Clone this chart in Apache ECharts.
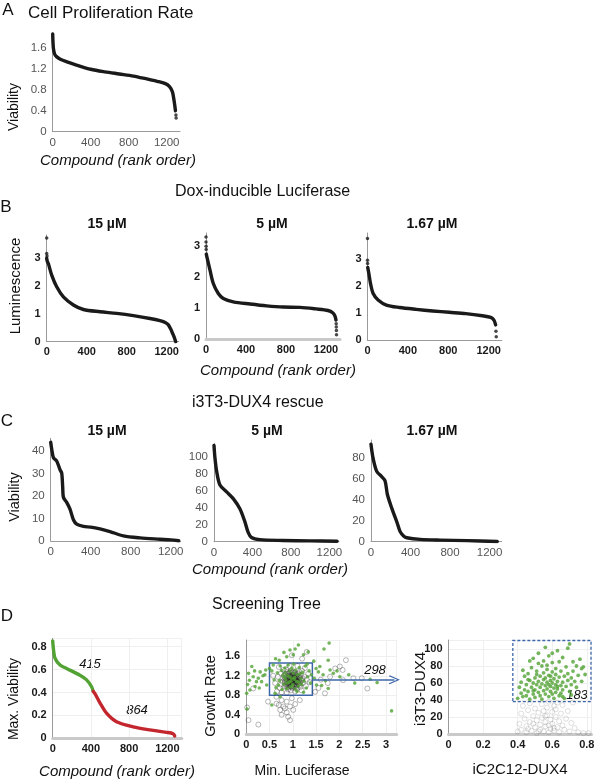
<!DOCTYPE html>
<html>
<head>
<meta charset="utf-8">
<script src="https://cdn.jsdelivr.net/npm/echarts@6/dist/echarts.min.js"></script>
<style>
  html, body { margin: 0; padding: 0; background: #fff; }
  #main { width: 600px; height: 782px; }
</style>
</head>
<body>
<div id="main"></div>
<script>
// ---- data ----
// A: cell proliferation rate
const aRank = [0, 3, 8, 20, 40, 80, 150, 250, 400, 550, 700, 850, 1000, 1100, 1180, 1230, 1260, 1275, 1285, 1292];
const aValue = [1.86, 1.70, 1.58, 1.48, 1.43, 1.38, 1.33, 1.27, 1.19, 1.14, 1.10, 1.06, 1.00, 0.96, 0.92, 0.86, 0.76, 0.62, 0.50, 0.40];
const aDots = [[1297, 0.32], [1299, 0.26]];

// B: dox-inducible luciferase
const b1Rank = [0, 5, 17, 50, 100, 167, 267, 367, 533, 700, 867, 1033, 1133, 1190, 1217, 1240, 1255, 1273, 1290];
const b1Value = [2.98, 2.88, 2.78, 2.38, 1.96, 1.60, 1.31, 1.15, 1.07, 1.01, 0.93, 0.83, 0.75, 0.68, 0.60, 0.45, 0.33, 0.18, 0.0];
const b1Dots = [[0, 3.7], [0, 3.15], [3, 3.06]];
const b2Rank = [3, 13, 40, 73, 123, 173, 273, 440, 607, 773, 940, 1100, 1220, 1270, 1290, 1300];
const b2Value = [2.75, 2.60, 2.23, 1.80, 1.48, 1.32, 1.21, 1.14, 1.08, 1.04, 1.03, 0.98, 0.93, 0.85, 0.75, 0.62];
const b2Dots = [[0, 3.30], [0, 3.14], [1, 3.0], [2, 2.9], [1302, 0.50], [1303, 0.40], [1304, 0.28], [1305, 0.15]];
const b3Rank = [2, 13, 30, 56, 105, 187, 318, 482, 646, 810, 974, 1138, 1220, 1252, 1269];
const b3Value = [2.70, 2.48, 2.10, 1.73, 1.49, 1.30, 1.21, 1.14, 1.08, 1.03, 0.98, 0.90, 0.84, 0.74, 0.56];
const b3Dots = [[0, 3.78], [0, 2.97], [1, 2.85], [1272, 0.33], [1275, 0.12]];

// C: i3T3-DUX4 rescue
const c1Rank = [0, 10, 27, 60, 93, 110, 120, 127, 160, 193, 227, 260, 327, 400, 493, 593, 727, 893, 1093, 1200, 1280];
const c1Value = [44, 41, 37.2, 35.7, 31.8, 30.3, 24, 19.5, 17.2, 14.2, 9.5, 7.5, 6.5, 6.2, 5.4, 4.2, 2.3, 1.4, 0.8, 0.5, 0.1];
const c2Rank = [0, 10, 28, 62, 131, 200, 269, 320, 355, 390, 476, 717, 1000, 1280];
const c2Value = [114, 99, 83, 67, 59, 51, 39, 24, 11, 5, 2.5, 1.5, 1.0, 0.6];
const c3Rank = [0, 5, 20, 58, 108, 142, 166, 210, 261, 295, 330, 363, 498, 700, 973, 1278];
const c3Value = [93, 89, 80, 67, 62, 58, 45, 32, 19, 9.6, 5.5, 3.8, 2.2, 1.5, 1.0, 0.2];

// D: screening tree
const d1GreenRank = [0, 5, 24, 77, 146, 285, 355, 407, 424];
const d1GreenValue = [0.85, 0.80, 0.70, 0.64, 0.61, 0.55, 0.51, 0.45, 0.41];
const d1RedRank = [424, 442, 494, 563, 668, 842, 1016, 1190, 1260, 1277];
const d1RedValue = [0.41, 0.39, 0.31, 0.22, 0.145, 0.10, 0.073, 0.052, 0.04, 0.02];

const d2Green = [
  [1.78,1.87],[1.67,1.75],[0.94,1.73],[1.05,1.75],[1.12,1.83],[0.81,1.68],[0.71,1.52],[0.87,1.59],[1.01,1.63],[1.23,1.63],
  [1.33,1.69],[1.76,1.52],[1.58,1.39],[1.55,1.28],[1.65,1.22],[1.80,1.32],[1.87,1.25],[2.01,1.18],[2.33,1.05],[2.66,1.13],
  [2.81,1.06],[3.12,0.48],[1.51,1.01],[1.62,1.00],[1.76,0.94],[0.12,1.39],[0.05,1.25],[0.15,1.18],[0.26,1.15],[0.33,1.08],
  [0.40,1.22],[0.44,1.01],[0.19,0.98],[0.08,0.91],[0.01,0.84],[0.02,0.52],[0.30,1.28],[0.50,1.35],[0.22,1.08],[0.07,1.11],
  [0.55,0.60],[0.73,0.77],[0.03,1.02],[0.36,1.20],[1.46,1.15],[1.50,1.35],[1.70,1.10],[1.95,1.30],[2.20,1.22],[0.18,1.30],
  [0.28,0.95],[0.42,1.32],[1.45,1.50],[0.63,1.55],
  [0.55,1.30],[0.60,1.12],[0.64,0.96],[0.67,1.26],[0.71,1.10],[0.73,1.40],[0.77,0.92],[0.79,1.21],[0.81,1.03],[0.83,1.36],
  [0.85,1.12],[0.87,0.94],[0.89,1.20],[0.90,1.42],[0.92,1.07],[0.94,1.30],[0.95,0.97],[0.97,1.15],[0.98,1.36],[1.00,1.02],
  [1.01,1.25],[1.03,1.13],[1.05,0.93],[1.06,1.32],[1.08,1.08],[1.10,1.22],[1.12,0.99],[1.14,1.37],[1.17,1.14],[1.19,1.02],
  [1.21,1.27],[1.24,1.09],[1.27,1.40],[1.29,0.95],[1.32,1.18],[1.35,1.30],[1.38,1.05],[1.40,1.22],[0.58,1.42],[0.62,0.84],
  [0.69,1.01],[0.76,1.31],[0.84,1.26],[0.93,1.18],[1.02,1.44],[1.09,0.88],[1.16,1.24],[1.23,0.86],[1.31,1.44],[0.88,1.05],
  [0.96,1.09],[1.04,1.17],[0.82,1.17],[1.13,1.07],[0.99,0.99]
];
const d2Gray = [
  [1.30,1.69],[2.14,1.52],[2.01,1.39],[2.07,1.32],[1.91,1.35],[1.80,1.18],[2.08,1.11],[2.60,0.94],[2.48,1.15],[1.69,0.84],
  [1.48,0.87],[0.65,0.77],[0.76,0.70],[0.87,0.67],[0.98,0.74],[0.65,0.63],[0.80,0.57],[0.94,0.57],[0.73,0.50],[0.87,0.45],
  [1.01,0.50],[0.76,0.40],[0.90,0.36],[0.94,0.29],[0.83,0.53],[0.47,0.67],[0.02,0.55],[0.05,0.29],[0.26,0.20],[0.15,0.94],
  [1.60,1.12],[1.75,1.05],[2.30,1.15],[1.55,0.95],[1.05,0.62],[0.70,0.60],[1.20,1.55],[0.98,1.62],[1.15,0.70],
  [0.62,1.05],[0.68,1.18],[0.72,0.95],[0.75,1.25],[0.78,1.08],[0.80,1.32],[0.82,0.98],[0.84,1.15],[0.85,1.22],[0.86,1.02],
  [0.88,1.10],[0.88,1.28],[0.90,0.92],[0.90,1.17],[0.91,1.05],[0.92,1.24],[0.93,1.12],[0.94,0.99],[0.95,1.08],[0.95,1.19],
  [0.96,1.30],[0.97,1.03],[0.98,1.14],[0.99,0.95],[1.00,1.10],[1.00,1.22],[1.01,1.06],[1.02,1.16],[1.03,0.98],[1.04,1.27],
  [1.05,1.09],[1.06,1.13],[1.07,1.02],[1.08,1.20],[1.09,0.93],[1.10,1.11],[1.12,1.25],[1.13,1.04],[1.15,1.16],[1.16,0.97],
  [1.18,1.10],[1.20,1.30],[1.22,1.05],[1.25,1.18],[1.28,0.99],[1.30,1.12],[1.33,1.24],[1.36,1.07],[0.70,1.38],[0.66,0.88],
  [0.58,1.20],[0.76,0.86],[0.87,0.85],[1.05,0.88],[1.19,0.90],[1.26,1.36],[0.93,1.40],[1.10,1.40],[0.83,1.08],[0.97,1.21],
  [1.03,1.09],[0.89,1.00],[1.11,1.18],[0.79,1.15],[0.94,1.04],[1.01,1.14],[0.96,0.90],[1.14,1.28],[0.74,1.02],[0.86,1.33],
  [1.07,0.95],[1.21,1.15],[0.98,1.27],[0.91,1.12],[1.04,1.03],[0.99,1.17],[0.92,0.96],[1.06,1.23],
  [0.84,1.06],[0.86,1.18],[0.88,0.97],[0.89,1.13],[0.90,1.25],[0.91,1.01],[0.92,1.16],[0.93,1.08],[0.94,1.21],[0.95,1.02],
  [0.95,1.13],[0.96,1.26],[0.97,0.98],[0.97,1.10],[0.98,1.19],[0.99,1.05],[0.99,1.12],[1.00,0.97],[1.00,1.17],[1.01,1.09],
  [1.01,1.28],[1.02,1.02],[1.02,1.12],[1.03,1.20],[1.04,1.07],[1.05,1.15],[1.05,0.99],[1.06,1.06],[1.07,1.18],[1.08,1.11],
  [1.08,1.00],[1.09,1.24],[1.10,1.07],[1.11,1.14],[1.12,1.03],[1.13,1.19],[1.14,1.10],[1.16,1.06],[1.17,1.21],[1.19,1.12],
  [0.82,1.12],[0.83,1.24],[0.85,0.99],[0.87,1.08],[0.90,1.10],[0.92,1.03],[0.94,1.14],[0.96,1.06],[0.98,1.08],[1.00,1.04],
  [1.03,1.15],[1.06,1.10],[1.09,1.16],[1.11,1.08],[0.97,1.16],[0.93,1.27],[1.04,1.23],[0.88,1.16],[1.15,1.01],[0.81,1.20]
];
const d2Box = [[0.5, 0.8], [1.42, 1.46]];
const d2Arrow = [[1.42, 1.12], [3.18, 1.12]];

const d3Green = [
  [0.40,42],[0.41,55],[0.42,48],[0.42,61],[0.43,44],[0.44,52],[0.44,68],[0.45,58],[0.45,45],[0.46,71],
  [0.46,50],[0.47,63],[0.47,41],[0.48,55],[0.48,78],[0.49,47],[0.49,60],[0.49,89],[0.50,52],[0.50,66],
  [0.50,43],[0.51,58],[0.51,74],[0.52,49],[0.52,62],[0.52,83],[0.53,45],[0.53,55],[0.53,68],[0.54,59],
  [0.54,80],[0.54,41],[0.55,51],[0.55,64],[0.55,72],[0.56,47],[0.56,57],[0.56,102],[0.56,66],[0.57,53],
  [0.57,61],[0.57,76],[0.58,44],[0.58,58],[0.58,69],[0.58,92],[0.59,50],[0.59,63],[0.59,56],[0.60,47],
  [0.60,60],[0.60,73],[0.60,84],[0.61,54],[0.61,65],[0.61,42],[0.62,58],[0.62,70],[0.62,49],[0.63,62],
  [0.63,98],[0.63,53],[0.64,45],[0.64,67],[0.64,85],[0.65,57],[0.65,48],[0.65,74],[0.66,61],[0.66,52],
  [0.67,68],[0.67,42],[0.68,56],[0.68,79],[0.69,63],[0.69,101],[0.69,71],[0.70,50],[0.70,106],[0.71,66],
  [0.71,58],[0.72,85],[0.72,74],[0.73,62],[0.74,55],[0.74,80],[0.75,69],[0.76,88],[0.77,77],[0.77,62],
  [0.78,79],[0.79,70],[0.52,95],[0.47,86],[0.43,75],[0.66,90],[0.60,95],[0.55,86],[0.62,77],[0.57,81],
  [0.51,70],[0.46,64],[0.66,44],[0.71,46],[0.49,51],[0.63,56],[0.59,68]
];
const d3Gray = [
  [0.40,3],[0.41,12],[0.42,24],[0.42,5],[0.43,33],[0.44,18],[0.45,2],[0.45,9],[0.46,28],[0.47,14],
  [0.47,36],[0.48,4],[0.49,21],[0.50,8],[0.50,30],[0.51,1],[0.51,16],[0.52,25],[0.53,5],[0.53,11],
  [0.54,35],[0.54,19],[0.55,3],[0.55,27],[0.56,9],[0.56,14],[0.57,31],[0.57,22],[0.58,2],[0.58,38],
  [0.59,6],[0.59,17],[0.60,26],[0.60,12],[0.61,33],[0.61,4],[0.62,20],[0.62,29],[0.63,8],[0.63,37],
  [0.64,15],[0.64,2],[0.65,24],[0.66,10],[0.66,34],[0.67,5],[0.68,18],[0.69,27],[0.70,3],[0.71,13],
  [0.72,37],[0.73,7],[0.75,2],[0.78,1],[0.81,1],[0.83,0],[0.58,10],[0.52,3],[0.46,6],[0.61,7],
  [0.56,21],[0.49,12]
];
const d3Box = [[0.372, 38], [0.824, 110]];

// ---- layout ----
const FONT = '"Liberation Sans", Arial, Helvetica, sans-serif';
const INK = '#1a1a1a';
const GREEN = '#52a234';
const RED = '#c4262e';
const BLUE = '#3d67a8';

// one entry per small plot: grid box, axis extents, label style
const panels = [
  { box: [52.7, 33, 127.3, 98.7], x: [1340, 400], y: [1.88, 0.4], bold: false },   // A
  { box: [46.7, 235, 132, 106.7], x: [1320, 400], y: [3.81, 1], bold: true },      // B 15
  { box: [206, 233, 134, 106.3], x: [1340, 400], y: [3.43, 1], bold: true, thick: true }, // B 5
  { box: [367.5, 233, 134.3, 107], x: [1330, 400], y: [3.98, 1], bold: true },     // B 1.67
  { box: [50.7, 438.3, 130, 102.7], x: [1300, 400], y: [45.8, 10], bold: false },  // C 15
  { box: [214, 443.3, 125, 98.4], x: [1300, 400], y: [116.4, 20], bold: false },   // C 5
  { box: [371, 440, 130.7, 101.7], x: [1323, 400], y: [96.9, 20], bold: false },   // C 1.67
  { box: [52.7, 638.3, 129, 100], x: [1350, 400], y: [0.873, 0.2], bold: true, thick: true, gridLines: true }, // D1
  { box: [246.2, 640, 150.5, 94.3], x: [3.23, 0.5], y: [1.934, 0.4], bold: true, thick: true, gridLines: true }, // D2
  { box: [448.5, 640, 143, 94], x: [0.827, 0.2], y: [110.6, 20], bold: true, thick: true, gridLines: true }     // D3
];

const tickFormatter = (step) => (v) => {
  const k = v / step;
  return Math.abs(k - Math.round(k)) < 1e-6 ? String(+v.toFixed(2)) : '';
};

const labelStyle = (p) => ({
  fontFamily: FONT,
  fontSize: p.bold ? 11 : 11.5,
  color: p.bold ? '#1a1a1a' : '#555',
  fontWeight: p.bold ? 'bold' : 'normal'
});

const grid = panels.map((p) => ({
  left: p.box[0], top: p.box[1], width: p.box[2], height: p.box[3], containLabel: false
}));

const xAxis = panels.map((p, i) => ({
  type: 'value', gridIndex: i, min: 0, max: p.x[0], interval: p.x[1],
  axisLine: { onZero: false, lineStyle: { color: p.thick ? '#c9c9c9' : '#9a9a9a', width: p.thick ? 3 : 1 } },
  axisTick: { show: false },
  axisLabel: { ...labelStyle(p), margin: 5, formatter: tickFormatter(p.x[1]) },
  splitLine: { show: !!p.gridLines, lineStyle: { color: '#efefef' } }
}));

const yAxis = panels.map((p, i) => ({
  type: 'value', gridIndex: i, min: 0, max: p.y[0], interval: p.y[1],
  axisLine: { show: true, onZero: false, lineStyle: { color: '#9a9a9a', width: 1 } },
  axisTick: { show: false },
  axisLabel: { ...labelStyle(p), margin: 6, formatter: tickFormatter(p.y[1]) },
  splitLine: { show: !!p.gridLines, lineStyle: { color: '#efefef' } }
}));

const pairs = (xs, ys) => xs.map((x, i) => [x, ys[i]]);

const curve = (i, xs, ys, color = INK) => ({
  type: 'line', xAxisIndex: i, yAxisIndex: i, data: pairs(xs, ys),
  symbol: 'none', smooth: 0.3, silent: true,
  lineStyle: { color, width: 3.4, cap: 'round', join: 'round' }
});

const dots = (i, data) => ({
  type: 'scatter', xAxisIndex: i, yAxisIndex: i, data, symbolSize: 3.5, silent: true,
  itemStyle: { color: INK }
});

const series = [
  curve(0, aRank, aValue), dots(0, aDots),
  curve(1, b1Rank, b1Value), dots(1, b1Dots),
  curve(2, b2Rank, b2Value), dots(2, b2Dots),
  curve(3, b3Rank, b3Value), dots(3, b3Dots),
  curve(4, c1Rank, c1Value),
  curve(5, c2Rank, c2Value),
  curve(6, c3Rank, c3Value),
  curve(7, d1GreenRank, d1GreenValue, GREEN),
  curve(7, d1RedRank, d1RedValue, RED),
  {
    // translucent strokes so the crowded core turns dark like the original
    type: 'scatter', xAxisIndex: 8, yAxisIndex: 8, data: d2Gray, symbolSize: 5, silent: true,
    itemStyle: { color: 'rgba(0,0,0,0)', borderColor: 'rgba(30,30,30,0.45)', borderWidth: 0.9 }
  },
  {
    type: 'scatter', xAxisIndex: 8, yAxisIndex: 8, data: d2Green, symbolSize: 3.6, silent: true,
    itemStyle: { color: GREEN },
    markArea: {
      silent: true,
      itemStyle: { color: 'rgba(0,0,0,0)', borderColor: BLUE, borderWidth: 1.5 },
      data: [[{ coord: d2Box[0] }, { coord: d2Box[1] }]]
    },
    markLine: {
      silent: true,
      symbol: ['none', 'path://M0,12 L6,0 L12,12 L10.6,12.8 L6,3.2 L1.4,12.8 Z'],
      symbolSize: [9, 11],
      lineStyle: { color: BLUE, width: 1.6, type: 'solid' },
      label: { show: false },
      data: [[{ coord: d2Arrow[0] }, { coord: d2Arrow[1] }]]
    }
  },
  {
    type: 'scatter', xAxisIndex: 9, yAxisIndex: 9, data: d3Gray, symbolSize: 5, silent: true,
    itemStyle: { color: 'rgba(0,0,0,0)', borderColor: 'rgba(0,0,0,0.2)', borderWidth: 0.8 }
  },
  {
    type: 'scatter', xAxisIndex: 9, yAxisIndex: 9, data: d3Green, symbolSize: 3.8, silent: true,
    itemStyle: { color: GREEN },
    markArea: {
      silent: true,
      itemStyle: { color: 'rgba(0,0,0,0)', borderColor: BLUE, borderWidth: 1.3, borderType: [3, 2] },
      data: [[{ coord: d3Box[0] }, { coord: d3Box[1] }]]
    }
  }
];

// text labels
const txt = (text, x, y, size, o = {}) => ({
  type: 'text', x, y, rotation: o.rot || 0, silent: true,
  style: {
    text, fontSize: size, fontFamily: FONT,
    fontStyle: o.italic ? 'italic' : 'normal',
    fontWeight: o.bold ? 'bold' : 'normal',
    fill: o.color || '#111',
    align: o.align || 'center', textAlign: o.align || 'center',
    verticalAlign: 'middle', textVerticalAlign: 'middle'
  }
});
const UP = Math.PI / 2;

const graphic = [
  txt('A', 8, 10, 17),
  txt('Cell Proliferation Rate', 28, 13, 17, { align: 'left' }),
  txt('Viability', 14, 107, 14, { rot: UP }),
  txt('Compound (rank order)', 40, 161, 15, { align: 'left', italic: true }),

  txt('Dox-inducible Luciferase', 175, 192, 16, { align: 'left' }),
  txt('B', 6, 207, 17),
  txt('15 µM', 107, 224, 14, { bold: true }),
  txt('5 µM', 272, 224, 14, { bold: true }),
  txt('1.67 µM', 432, 224, 14, { bold: true }),
  txt('Luminescence', 16, 286, 15, { rot: UP }),
  txt('Compound (rank order)', 200, 371, 15, { align: 'left', italic: true }),

  txt('i3T3-DUX4 rescue', 192, 403, 16, { align: 'left' }),
  txt('C', 7, 421, 17),
  txt('15 µM', 107, 431, 14, { bold: true }),
  txt('5 µM', 267, 431, 14, { bold: true }),
  txt('1.67 µM', 432, 431, 14, { bold: true }),
  txt('Viability', 15, 497, 14.5, { rot: UP }),
  txt('Compound (rank order)', 192, 570, 15, { align: 'left', italic: true }),

  txt('Screening Tree', 212, 605, 16, { align: 'left' }),
  txt('D', 7, 616, 17),
  txt('Max. Viability', 14, 699, 14, { rot: UP }),
  txt('415', 90, 664, 13, { italic: true }),
  txt('864', 137, 710, 13, { italic: true }),
  txt('Compound (rank order)', 117, 772, 15, { italic: true }),
  txt('Growth Rate', 211, 696, 14.5, { rot: UP }),
  txt('298', 375, 670, 13, { italic: true }),
  txt('Min. Luciferase', 302, 771, 14),
  txt('i3T3-DUX4', 421, 689, 15, { rot: UP }),
  txt('183', 577, 695, 13, { italic: true }),
  txt('iC2C12-DUX4', 520, 770, 15)
];

const chart = echarts.init(document.getElementById('main'), null, { renderer: 'canvas' });
chart.setOption({
  animation: false,
  backgroundColor: '#ffffff',
  grid,
  xAxis,
  yAxis,
  series,
  graphic
});
</script>
</body>
</html>
